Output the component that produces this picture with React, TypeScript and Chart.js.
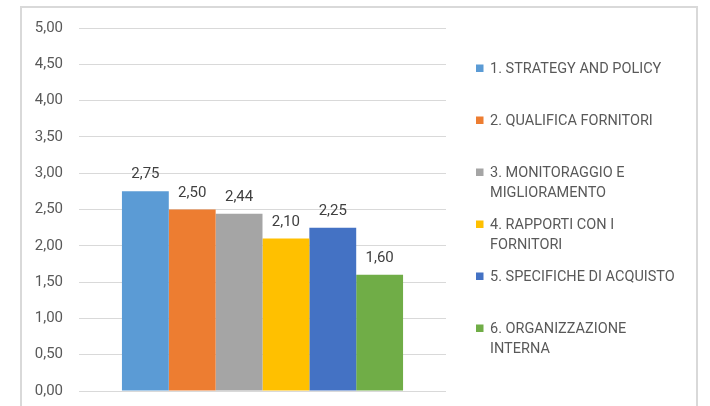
import React, { useEffect, useRef } from "react";
import { Chart, registerables } from "chart.js";

Chart.register(...registerables);

const categories = [""];
const seriesNames = [
  "1. STRATEGY AND POLICY",
  "2. QUALIFICA FORNITORI",
  "3. MONITORAGGIO E MIGLIORAMENTO",
  "4. RAPPORTI CON I FORNITORI",
  "5. SPECIFICHE DI ACQUISTO",
  "6. ORGANIZZAZIONE INTERNA",
];
const legendLines = [
  ["1. STRATEGY AND POLICY"],
  ["2. QUALIFICA FORNITORI"],
  ["3. MONITORAGGIO E", "MIGLIORAMENTO"],
  ["4. RAPPORTI CON I", "FORNITORI"],
  ["5. SPECIFICHE DI ACQUISTO"],
  ["6. ORGANIZZAZIONE", "INTERNA"],
];
const seriesValues = [2.75, 2.5, 2.44, 2.1, 2.25, 1.6];
const seriesColors = ["#5B9BD5", "#ED7D31", "#A5A5A5", "#FFC000", "#4472C4", "#70AD47"];
const yMin = 0;
const yMax = 5;
const yStep = 0.5;

const FONT = "Roboto, 'Liberation Sans', sans-serif";
const fmt = (v: number) => v.toFixed(2).replace(".", ",");

export default function App() {
  const ref = useRef<HTMLCanvasElement | null>(null);
  useEffect(() => {
    if (!ref.current) return;
    const extras = {
      id: "extras",
      beforeDraw(chart: any) {
        const ctx = chart.ctx;
        ctx.save();
        ctx.fillStyle = "#ffffff";
        ctx.fillRect(0, 0, chart.width, chart.height);
        ctx.strokeStyle = "#d9d9d9";
        ctx.lineWidth = 2;
        ctx.strokeRect(21, 7, 676, 500);
        ctx.restore();
      },
      afterDatasetsDraw(chart: any) {
        const ctx = chart.ctx;
        ctx.save();
        ctx.font = `15px ${FONT}`;
        ctx.fillStyle = "#404040";
        ctx.textAlign = "center";
        ctx.textBaseline = "alphabetic";
        chart.data.datasets.forEach((ds: any, i: number) => {
          const el = chart.getDatasetMeta(i).data[0];
          ctx.fillText(fmt(ds.data[0]), el.x, el.y - 13);
        });
        // legend
        ctx.font = `14.5px ${FONT}`;
        ctx.textAlign = "left";
        ctx.textBaseline = "middle";
        legendLines.forEach((lines, i) => {
          const y0 = 69 + i * 52;
          ctx.fillStyle = seriesColors[i];
          ctx.fillRect(476, y0 - 4.5, 7.5, 7.5);
          ctx.fillStyle = "#595959";
          lines.forEach((ln, j) => {
            ctx.fillText(ln, 490, y0 + j * 20 + 0.5);
          });
        });
        ctx.restore();
      },
    };
    const chart = new Chart(ref.current, {
      type: "bar",
      data: {
        labels: categories,
        datasets: seriesNames.map((n, i) => ({
          label: n,
          data: [seriesValues[i]],
          backgroundColor: seriesColors[i],
          borderWidth: 0,
          barPercentage: 1,
          categoryPercentage: 0.766,
        })),
      },
      options: {
        responsive: false,
        animation: false,
        layout: { padding: { left: 0, right: 264, top: 28, bottom: 15 } },
        plugins: { legend: { display: false }, tooltip: { enabled: false } },
        scales: {
          x: { display: false },
          y: {
            min: yMin,
            max: yMax,
            afterFit(scale: any) {
              scale.width = 79;
              scale.paddingTop = 0;
              scale.paddingBottom = 0;
            },
            border: { display: false },
            grid: { color: "#d9d9d9", lineWidth: 1, drawTicks: false },
            ticks: {
              stepSize: yStep,
              padding: 16,
              color: "#595959",
              font: { family: FONT, size: 15 },
              callback: (v: any) => fmt(Number(v)),
            },
          },
        },
      },
      plugins: [extras],
    });
    return () => chart.destroy();
  }, []);
  return (
    <div style={{ position: "fixed", left: 0, top: 0, width: 710, height: 406 }}>
      <canvas ref={ref} width={710} height={406} />
    </div>
  );
}
